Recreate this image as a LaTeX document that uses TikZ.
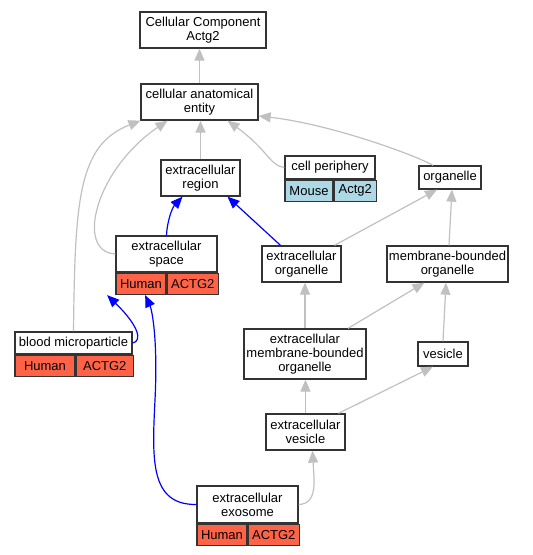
\documentclass[tikz,border=0pt]{standalone}
\usepackage{fontspec}
\setmainfont{Liberation Sans}
\usepackage{tikz}
\usetikzlibrary{fit,positioning}
\usetikzlibrary{arrows.meta}
\definecolor{humanred}{RGB}{255,99,71}
\definecolor{mouseblue}{RGB}{173,216,230}
\definecolor{edgegray}{RGB}{192,192,192}

\begin{document}
\begin{tikzpicture}[x=1pt,y=-1pt]
\tikzstyle{term}=[rectangle, draw=black!80, line width=1.3pt, fill=white, inner sep=0pt, align=center, font=\fontsize{13}{14}\selectfont]
\tikzstyle{cell}=[term, minimum height=21pt]
\tikzstyle{isa}=[-{Triangle[width=10pt,length=12pt]}, draw=edgegray, line width=1.2pt]
\tikzstyle{occurs}=[isa, draw=blue]
  \useasboundingbox (0,0) rectangle (533,555);

  % terms
  \node[term, minimum width=126pt, minimum height=36pt] (cc) at (203,30) {Cellular Component\\Actg2};
  \node[term, minimum width=117pt, minimum height=36pt] (cae) at (199.5,102) {cellular anatomical\\entity};
  \node[term, minimum width=79pt, minimum height=36pt] (reg) at (200.5,178) {extracellular\\region};
  \node[term, minimum width=62pt, minimum height=23pt] (org) at (450,177.5) {organelle};
  \node[term, minimum width=79pt, minimum height=36pt] (eorg) at (301.5,264) {extracellular\\organelle};
  \node[term, minimum width=121pt, minimum height=36pt] (mbo) at (447.5,264) {membrane-bounded\\organelle};
  \node[term, minimum width=122pt, minimum height=50pt] (emb) at (305,354) {extracellular\\membrane-bounded\\organelle};
  \node[term, minimum width=50pt, minimum height=24pt] (ves) at (443,354) {vesicle};
  \node[term, minimum width=79pt, minimum height=36pt] (ev) at (305.5,432) {extracellular\\vesicle};

  % annotated terms
  \node[term, minimum width=90pt, minimum height=23pt] (per-t) at (330,167.5) {cell periphery};
  \node[cell, fill=mouseblue, minimum width=48pt, anchor=north west] (per-s) at (per-t.south west) {Mouse};
  \node[cell, fill=mouseblue, minimum width=42pt, right=0pt of per-s] (per-g) {Actg2};
  \node[fit=(per-t) (per-s) (per-g), inner sep=0pt] (per) {};

  \node[term, minimum width=101pt, minimum height=36pt] (spc-t) at (166.5,254) {extracellular\\space};
  \node[cell, fill=humanred, minimum width=50pt, anchor=north west] (spc-s) at (spc-t.south west) {Human};
  \node[cell, fill=humanred, minimum width=51pt, right=0pt of spc-s] (spc-g) {ACTG2};
  \node[fit=(spc-t) (spc-s) (spc-g), inner sep=0pt] (spc) {};

  \node[term, minimum width=117pt, minimum height=22pt] (bm-t) at (73.5,343) {blood microparticle};
  \node[cell, fill=humanred, minimum width=60pt, anchor=north west] (bm-s) at (bm-t.south west) {Human};
  \node[cell, fill=humanred, minimum width=57pt, right=0pt of bm-s] (bm-g) {ACTG2};
  \node[fit=(bm-t) (bm-s) (bm-g), inner sep=0pt] (bm) {};

  \node[term, minimum width=101pt, minimum height=37pt] (exo-t) at (247.5,504.5) {extracellular\\exosome};
  \node[cell, fill=humanred, minimum width=50pt, anchor=north west] (exo-s) at (exo-t.south west) {Human};
  \node[cell, fill=humanred, minimum width=51pt, right=0pt of exo-s] (exo-g) {ACTG2};
  \node[fit=(exo-t) (exo-s) (exo-g), inner sep=0pt] (exo) {};

  % is_a
  \draw[isa] (cae.north) -- (cae.north |- cc.south);
  \draw[isa] (reg.north) -- (reg.north |- cae.south);
  \draw[isa] (per-t.west) .. controls (270,166) and (268,150) .. ([xshift=28]cae.south);
  \draw[isa] ([xshift=-17]org.north) .. controls (415,155) and (330,124) .. ([yshift=-14]cae.east);
  \draw[isa] (spc-t.west) .. controls (75,252) and (95,170) .. ([xshift=-32]cae.south);
  \draw[isa] (bm-t.north) .. controls (75,200) and (78,145) .. ([xshift=-59]cae.south);
  \draw[isa] ([xshift=33]eorg.north) -- ([xshift=-13]org.south);
  \draw[isa] ([xshift=1.5]mbo.north) -- ([xshift=2]org.south);
  \draw[isa] (emb.north) -- ([xshift=3.5]eorg.south);
  \draw[isa] ([xshift=43]emb.north) -- ([xshift=-23]mbo.south);
  \draw[isa] (ves.north) -- ([xshift=-1.5]mbo.south);
  \draw[isa] (ev.north) -- (ev.north |- emb.south);
  \draw[isa] ([xshift=33]ev.north) -- ([xshift=-10]ves.south);
  \draw[isa] (exo-t.east) .. controls (318,504) and (314,480) .. ([xshift=7]ev.south);

  % part_of
  \draw[occurs] (spc-t.north) .. controls (167,222) and (172,208) .. ([xshift=-18]reg.south);
  \draw[occurs] ([xshift=-21]eorg.north) -- ([xshift=27]reg.south);
  \draw[occurs] (bm-t.east) .. controls (143,341) and (138,325) .. ([xshift=-8]spc.south west);
  \draw[occurs] (exo-t.west) .. controls (150,505) and (152,460) .. (155,400) .. controls (158,340) and (152,310) .. ([xshift=-22]spc.south);
\end{tikzpicture}
\end{document}
